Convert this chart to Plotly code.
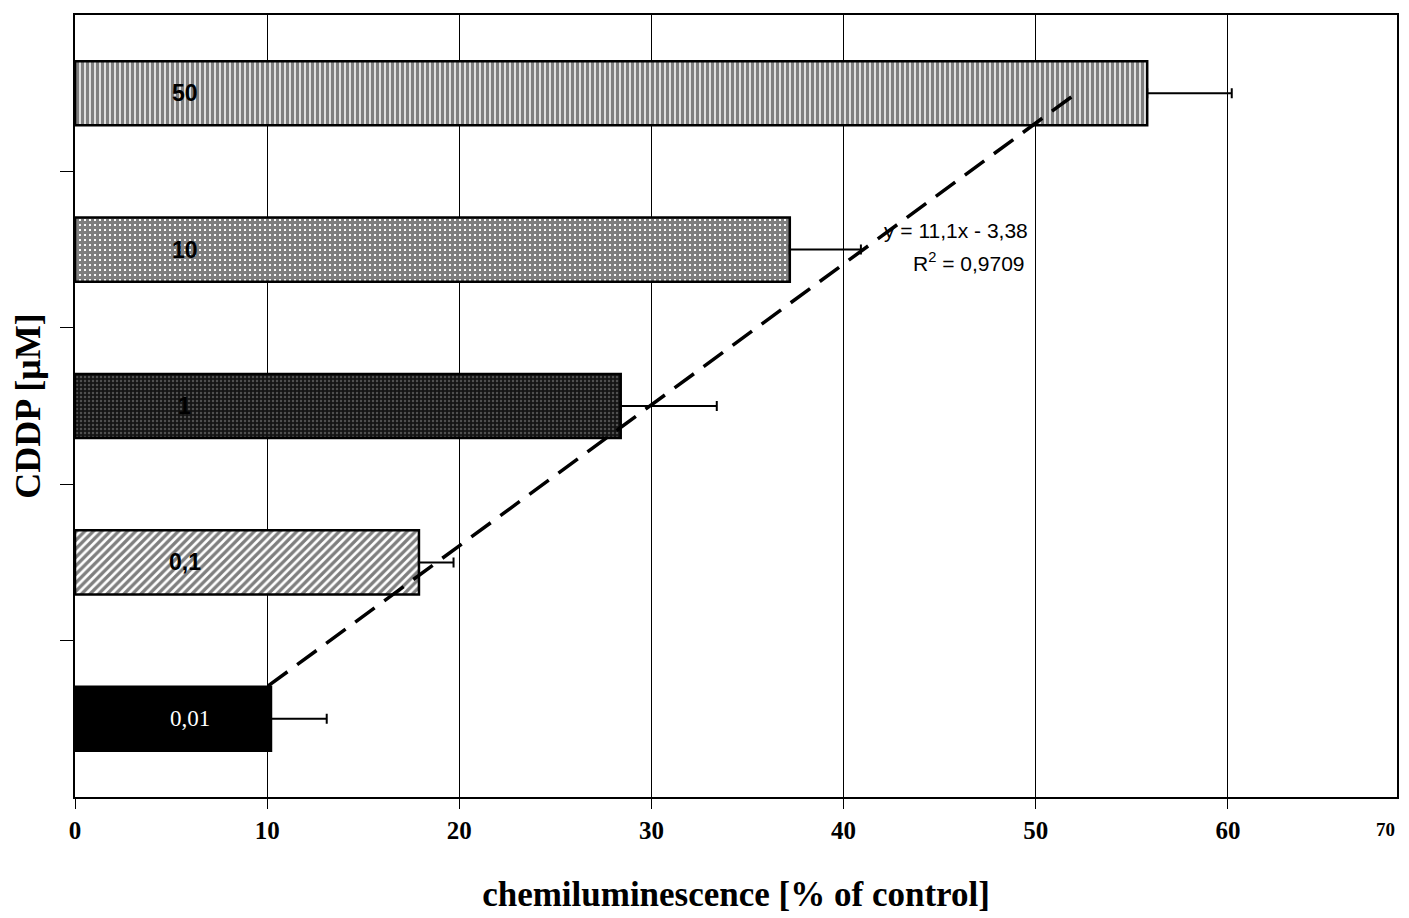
import plotly.graph_objects as go

# Data
concentrations = ["0,01", "0,1", "1", "10", "50"]          # CDDP [µM], bottom to top
chemilum = [10.2, 17.9, 28.4, 37.2, 55.8]                   # % of control
errors = [2.9, 1.8, 5.0, 3.7, 4.4]
positions = [1, 2, 3, 4, 5]
x_ticks = [0, 10, 20, 30, 40, 50, 60]
trend_slope = 11.1
trend_intercept = -3.38
trend_r2 = "0,9709"
trend_index_range = [1.21, 5.0]

patterns = [
    dict(shape=""),
    dict(shape="/", fgcolor="black", bgcolor="white", size=6, solidity=0.55),
    dict(shape=".", fgcolor="#8a8a8a", bgcolor="#141414", size=4, solidity=0.3),
    dict(shape="+", fgcolor="black", bgcolor="white", size=5, solidity=0.85),
    dict(shape="|", fgcolor="black", bgcolor="white", size=5, solidity=0.7),
]
colors = ["black", "white", "#141414", "white", "white"]

fig = go.Figure()
for i in range(len(positions)):
    fig.add_trace(go.Bar(
        x=[chemilum[i]], y=[positions[i]], orientation="h", width=0.41,
        marker=dict(color=colors[i], pattern=patterns[i],
                    line=dict(color="black", width=2.5)),
        error_x=dict(type="data", symmetric=False, array=[errors[i]],
                     arrayminus=[0], color="black", thickness=2, width=5),
        showlegend=False, hoverinfo="skip",
    ))

# trend line
tx = [trend_slope * t + trend_intercept for t in trend_index_range]
fig.add_trace(go.Scatter(
    x=tx, y=trend_index_range, mode="lines",
    line=dict(color="black", width=3.5, dash="24px,12px"),
    showlegend=False, hoverinfo="skip",
))

# labels inside bars
for i in range(len(positions)):
    is_black = (i == 0)
    fig.add_annotation(
        x=6.0 if is_black else 5.7, y=positions[i], text=concentrations[i],
        showarrow=False, xanchor="center", yanchor="middle",
        font=dict(family="Liberation Serif" if is_black else "Liberation Sans",
                  size=23, weight="normal" if is_black else "bold",
                  color="white" if is_black else "black"),
    )

fig.add_annotation(
    x=42.0, y=4.12, xanchor="left", yanchor="middle", showarrow=False,
    text=f"y = {str(trend_slope).replace('.', ',')}x - {str(-trend_intercept).replace('.', ',')}",
    font=dict(family="Liberation Sans", size=21, color="black"),
)
fig.add_annotation(
    x=46.5, y=3.92, xanchor="center", yanchor="middle", showarrow=False,
    text=f"R<sup>2</sup> = {trend_r2}",
    font=dict(family="Liberation Sans", size=21, color="black"),
)
fig.add_annotation(
    x=1.0, xref="paper", y=-0.025, yref="paper", xanchor="right", yanchor="top",
    showarrow=False, text="<b>70</b>",
    font=dict(family="Liberation Serif", size=19, color="black"),
)

fig.update_layout(
    width=1409, height=918,
    margin=dict(l=75, r=10, t=15, b=121),
    paper_bgcolor="white", plot_bgcolor="white",
    barmode="overlay",
    xaxis=dict(
        range=[0, 68.8], tickvals=x_ticks, ticktext=[str(v) for v in x_ticks],
        showgrid=True, gridcolor="black", gridwidth=1,
        showline=True, linecolor="black", linewidth=2, mirror=True,
        ticks="outside", ticklen=10, tickcolor="black",
        tickfont=dict(family="Liberation Serif", size=25, color="black", weight="bold"),
        zeroline=False,
        title=dict(text="<b>chemiluminescence [% of control]</b>",
                   font=dict(family="Liberation Serif", size=35, color="black"),
                   standoff=38),
    ),
    yaxis=dict(
        range=[0.5, 5.5], tickvals=[1.5, 2.5, 3.5, 4.5], showticklabels=False,
        showgrid=False, zeroline=False,
        showline=True, linecolor="black", linewidth=2, mirror=True,
        ticks="outside", ticklen=13, tickcolor="black",
        title=dict(text="<b>CDDP [μM]</b>",
                   font=dict(family="Liberation Serif", size=36, color="black"),
                   standoff=8),
    ),
)

fig.write_html("out.html")
